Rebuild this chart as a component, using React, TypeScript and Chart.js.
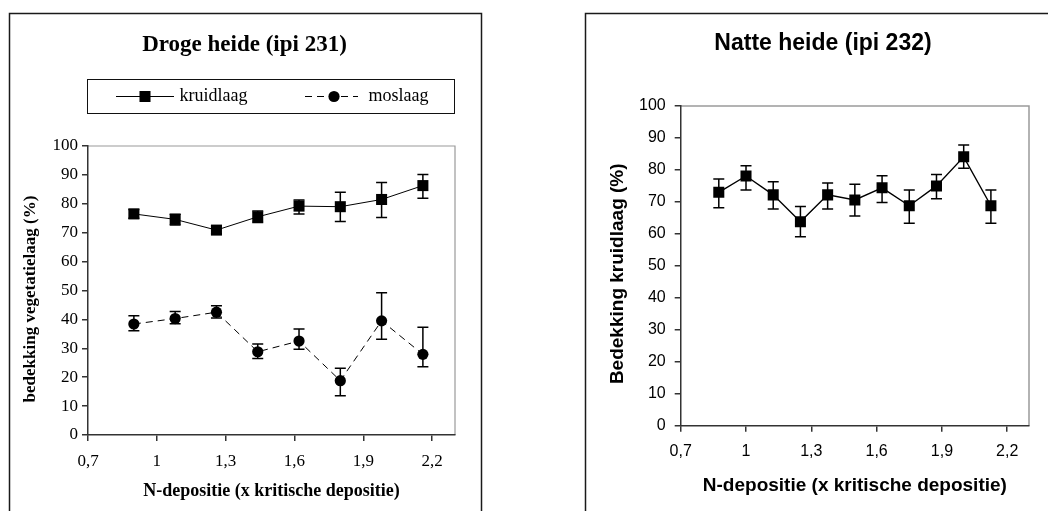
import React, { useEffect, useRef } from 'react';
import { Chart, registerables } from 'chart.js';
import { drawPoint } from 'chart.js/helpers';

Chart.register(...registerables);

// ---------- data ----------
const xTickValues = [0.7, 1.0, 1.3, 1.6, 1.9, 2.2];
const xTickLabels = ['0,7', '1', '1,3', '1,6', '1,9', '2,2'];

const drogeTitle = 'Droge heide (ipi 231)';
const drogeDepositie = [0.9, 1.08, 1.26, 1.44, 1.62, 1.8, 1.98, 2.16];
const drogeKruidlaag = [76.5, 74.6, 70.9, 75.5, 79.2, 79.0, 81.5, 86.3];
const drogeKruidlaagPlus = [1.5, 1.8, 1.3, 2.0, 2.1, 5.0, 5.9, 3.8];
const drogeKruidlaagMinus = [1.5, 1.9, 1.3, 2.0, 2.7, 5.1, 6.2, 4.4];
const drogeMoslaag = [38.4, 40.3, 42.5, 28.8, 32.5, 18.8, 39.5, 27.9];
const drogeMoslaagPlus = [2.9, 2.4, 2.2, 2.7, 4.2, 4.3, 9.7, 9.4];
const drogeMoslaagMinus = [2.3, 1.8, 2.0, 2.3, 2.8, 5.2, 6.4, 4.3];

const natteTitle = 'Natte heide (ipi 232)';
const natteDepositie = [0.875, 1.0, 1.125, 1.25, 1.375, 1.5, 1.625, 1.75, 1.875, 2.0, 2.125];
const natteKruidlaag = [73.0, 78.1, 72.2, 63.8, 72.2, 70.6, 74.4, 68.8, 75.0, 84.1, 68.8];
const natteKruidlaagPlus = [4.2, 3.2, 4.1, 4.8, 3.7, 4.9, 3.8, 4.9, 3.6, 3.7, 4.9];
const natteKruidlaagMinus = [4.8, 4.4, 4.4, 4.7, 4.4, 5.0, 4.6, 5.5, 4.0, 3.6, 5.5];

const seriesLabels = ['kruidlaag', 'moslaag'];
const xAxisTitle = 'N-depositie (x kritische depositie)';
const drogeYTitle = 'bedekking vegetatielaag (%)';
const natteYTitle = 'Bedekking kruidlaag (%)';

// ---------- plugins ----------
const errorBarPlugin = {
  id: 'errorBars',
  beforeDatasetsDraw(chart: any) {
    const { ctx } = chart;
    const xs = chart.scales.x;
    const ys = chart.scales.y;
    chart.data.datasets.forEach((ds: any) => {
      const plus = ds.errPlus;
      const minus = ds.errMinus;
      if (!plus || !minus) return;
      ctx.save();
      ctx.strokeStyle = '#000';
      ctx.lineWidth = ds.errWidth ?? 1.5;
      const cap = ds.errCap ?? 5.5;
      ds.data.forEach((pt: any, i: number) => {
        const px = xs.getPixelForValue(pt.x);
        const top = ys.getPixelForValue(pt.y + plus[i]);
        const bot = ys.getPixelForValue(pt.y - minus[i]);
        ctx.beginPath();
        ctx.moveTo(px, top);
        ctx.lineTo(px, bot);
        ctx.moveTo(px - cap, top);
        ctx.lineTo(px + cap, top);
        ctx.moveTo(px - cap, bot);
        ctx.lineTo(px + cap, bot);
        ctx.stroke();
      });
      ctx.restore();
    });
  },
};

const framePlugin = {
  id: 'frame',
  beforeDraw(chart: any, _args: any, opts: any) {
    const { ctx } = chart;
    ctx.save();
    ctx.strokeStyle = opts.color;
    ctx.lineWidth = opts.lineWidth;
    ctx.strokeRect(opts.left, opts.top, opts.width, opts.height);
    const a = chart.chartArea;
    ctx.strokeStyle = opts.plotBorderColor;
    ctx.lineWidth = opts.plotBorderWidth;
    ctx.beginPath();
    ctx.moveTo(a.left, a.top);
    ctx.lineTo(a.right, a.top);
    ctx.lineTo(a.right, a.bottom);
    ctx.stroke();
    ctx.restore();
  },
};

const boxLegendPlugin = {
  id: 'boxLegend',
  afterDraw(chart: any, _args: any, opts: any) {
    if (!opts || !opts.items) return;
    const { ctx } = chart;
    ctx.save();
    ctx.strokeStyle = opts.borderColor;
    ctx.lineWidth = 1;
    ctx.strokeRect(opts.left, opts.top, opts.width, opts.height);
    const cy = opts.top + opts.height / 2;
    opts.items.forEach((it: any, i: number) => {
      const ds = chart.data.datasets[i];
      ctx.strokeStyle = ds.borderColor;
      ctx.lineWidth = ds.borderWidth;
      ctx.setLineDash(ds.borderDash || []);
      ctx.beginPath();
      ctx.moveTo(it.lineStart, cy);
      ctx.lineTo(it.lineEnd, cy);
      ctx.stroke();
      ctx.setLineDash([]);
      ctx.fillStyle = ds.pointBackgroundColor;
      ctx.strokeStyle = ds.pointBorderColor;
      drawPoint(ctx, { pointStyle: ds.pointStyle, radius: ds.pointRadius, rotation: 0, borderWidth: 0 } as any, it.markerX, cy);
      ctx.fillStyle = '#000';
      ctx.font = opts.font;
      ctx.textBaseline = 'middle';
      ctx.textAlign = 'left';
      ctx.fillText(ds.label, it.textX, cy);
    });
    ctx.restore();
  },
};

// ---------- config builders ----------
type AxisGeom = {
  family: string;
  tickSize: number;
  titleSize: number;
  xTitleSize: number;
  yWidth: number;
  xHeight: number;
  yTitlePadTop: number;
  xTitlePadBottom: number;
  yTickPad: number;
  xTickPad: number;
  yTitle: string;
};

function makeScales(g: AxisGeom) {
  const axisColor = '#333';
  return {
    x: {
      type: 'linear',
      min: 0.7,
      max: 2.3,
      afterBuildTicks: (s: any) => {
        s.ticks = xTickValues.map((v) => ({ value: v }));
      },
      afterFit: (s: any) => {
        s.height = g.xHeight;
      },
      ticks: {
        callback: (_v: any, i: number) => xTickLabels[i],
        autoSkip: false,
        maxRotation: 0,
        color: '#000',
        padding: g.xTickPad,
        font: { family: g.family, size: g.tickSize },
      },
      grid: { drawOnChartArea: false, drawTicks: true, tickLength: 6, color: axisColor, lineWidth: 1.5 },
      border: { display: true, color: axisColor, width: 1.5 },
      title: {
        display: true,
        text: xAxisTitle,
        color: '#000',
        font: { family: g.family, size: g.xTitleSize, weight: 'bold' },
        padding: { top: 0, bottom: g.xTitlePadBottom },
      },
    },
    y: {
      type: 'linear',
      min: 0,
      max: 100,
      afterFit: (s: any) => {
        s.width = g.yWidth;
      },
      ticks: {
        stepSize: 10,
        color: '#000',
        padding: g.yTickPad,
        font: { family: g.family, size: g.tickSize },
      },
      grid: { drawOnChartArea: false, drawTicks: true, tickLength: 6, color: axisColor, lineWidth: 1.5 },
      border: { display: true, color: axisColor, width: 1.5 },
      title: {
        display: true,
        text: g.yTitle,
        color: '#000',
        font: { family: g.family, size: g.titleSize, weight: 'bold' },
        padding: { top: g.yTitlePadTop, bottom: 0 },
      },
    },
  };
}

function drogeConfig(): any {
  const family = 'Liberation Serif';
  return {
    type: 'scatter',
    data: {
      datasets: [
        {
          label: seriesLabels[0],
          data: drogeDepositie.map((x, i) => ({ x, y: drogeKruidlaag[i] })),
          showLine: true,
          borderColor: '#000',
          borderWidth: 1,
          pointStyle: 'rect',
          pointRadius: 7.8,
          pointBackgroundColor: '#000',
          pointBorderColor: '#000',
          pointBorderWidth: 0,
          errPlus: drogeKruidlaagPlus,
          errMinus: drogeKruidlaagMinus,
        },
        {
          label: seriesLabels[1],
          data: drogeDepositie.map((x, i) => ({ x, y: drogeMoslaag[i] })),
          showLine: true,
          borderColor: '#000',
          borderWidth: 1,
          borderDash: [7, 5],
          pointStyle: 'circle',
          pointRadius: 5.6,
          pointBackgroundColor: '#000',
          pointBorderColor: '#000',
          pointBorderWidth: 0,
          errPlus: drogeMoslaagPlus,
          errMinus: drogeMoslaagMinus,
        },
      ],
    },
    plugins: [framePlugin, errorBarPlugin, boxLegendPlugin],
    options: {
      responsive: true,
      maintainAspectRatio: false,
      animation: false,
      events: [],
      layout: { padding: { left: 34, right: 69, top: 20, bottom: 0 } },
      scales: makeScales({
        family,
        tickSize: 17,
        titleSize: 17,
        xTitleSize: 18,
        yWidth: 54,
        xHeight: 76,
        yTitlePadTop: -13.7,
        xTitlePadBottom: 9.2,
        yTickPad: 4,
        xTickPad: 10.8,
        yTitle: drogeYTitle + '    ',
      }),
      plugins: {
        legend: { display: false },
        tooltip: { enabled: false },
        title: {
          display: true,
          text: drogeTitle,
          color: '#000',
          font: { family, size: 23, weight: 'bold' },
          padding: { top: 11.2, bottom: 87.2 },
        },
        frame: {
          left: 9.5, top: 13.5, width: 472, height: 520,
          color: '#1a1a1a', lineWidth: 1.5,
          plotBorderColor: '#9a9a9a', plotBorderWidth: 1.2,
        },
        boxLegend: {
          left: 87.5, top: 79.5, width: 367, height: 34,
          borderColor: '#111',
          font: '18px "Liberation Serif"',
          items: [
            { lineStart: 116, lineEnd: 174, markerX: 145, textX: 179.5 },
            { lineStart: 305, lineEnd: 358, markerX: 334, textX: 368.5 },
          ],
        },
      },
    },
  };
}

function natteConfig(): any {
  const family = 'Liberation Sans';
  return {
    type: 'scatter',
    data: {
      datasets: [
        {
          label: seriesLabels[0],
          data: natteDepositie.map((x, i) => ({ x, y: natteKruidlaag[i] })),
          showLine: true,
          borderColor: '#000',
          borderWidth: 1.4,
          pointStyle: 'rect',
          pointRadius: 7.8,
          pointBackgroundColor: '#000',
          pointBorderColor: '#000',
          pointBorderWidth: 0,
          errPlus: natteKruidlaagPlus,
          errMinus: natteKruidlaagMinus,
        },
      ],
    },
    plugins: [framePlugin, errorBarPlugin],
    options: {
      responsive: true,
      maintainAspectRatio: false,
      animation: false,
      events: [],
      layout: { padding: { left: 93, right: 19, top: 20, bottom: 0 } },
      scales: makeScales({
        family,
        tickSize: 16,
        titleSize: 19,
        xTitleSize: 19,
        yWidth: 63.7,
        xHeight: 85.3,
        yTitlePadTop: -10.4,
        xTitlePadBottom: 13.6,
        yTickPad: 9,
        xTickPad: 10.7,
        yTitle: natteYTitle + '   ',
      }),
      plugins: {
        legend: { display: false },
        tooltip: { enabled: false },
        title: {
          display: true,
          text: natteTitle,
          color: '#000',
          font: { family, size: 23, weight: 'bold' },
          padding: { top: 10.2, bottom: 48.2 },
        },
        frame: {
          left: 61.5, top: 13.5, width: 600, height: 520,
          color: '#1a1a1a', lineWidth: 1.5,
          plotBorderColor: '#9a9a9a', plotBorderWidth: 1.5,
        },
      },
    },
  };
}

function ChartBox({ make, left }: { make: () => any; left: number }) {
  const ref = useRef<HTMLCanvasElement>(null);
  useEffect(() => {
    const chart = new Chart(ref.current as HTMLCanvasElement, make());
    return () => chart.destroy();
  }, [make]);
  return (
    <div style={{ position: 'absolute', left, top: 0, width: 524, height: 511 }}>
      <canvas ref={ref} />
    </div>
  );
}

export default function App() {
  return (
    <div
      style={{
        position: 'fixed',
        left: 0,
        top: 0,
        width: 1048,
        height: 511,
        background: '#fff',
        overflow: 'hidden',
      }}
    >
      <ChartBox make={drogeConfig} left={0} />
      <ChartBox make={natteConfig} left={524} />
    </div>
  );
}
